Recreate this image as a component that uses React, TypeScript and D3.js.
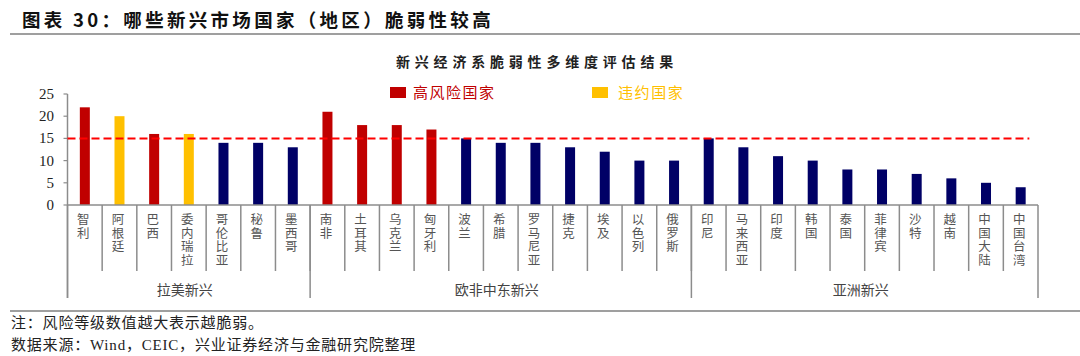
import React from "react";
import * as d3 from "d3";

const groupNames = ["拉美新兴", "欧非中东新兴", "亚洲新兴"];
const latam = ["智利", "阿根廷", "巴西", "委内瑞拉", "哥伦比亚", "秘鲁", "墨西哥"];
const emea = ["南非", "土耳其", "乌克兰", "匈牙利", "波兰", "希腊", "罗马尼亚", "捷克", "埃及", "以色列", "俄罗斯"];
const asia = ["印尼", "马来西亚", "印度", "韩国", "泰国", "菲律宾", "沙特", "越南", "中国大陆", "中国台湾"];
const latamValues = [22, 20, 16, 16, 14, 14, 13];
const emeaValues = [21, 18, 18, 17, 15, 14, 14, 13, 12, 10, 10];
const asiaValues = [15, 13, 11, 10, 8, 8, 7, 6, 5, 4];
const highRisk = ["智利", "巴西", "南非", "土耳其", "乌克兰", "匈牙利"];
const defaulted = ["阿根廷", "委内瑞拉"];
const yTicks = [0, 5, 10, 15, 20, 25];
const threshold = 15;
const legendLabels = ["高风险国家", "违约国家"];

const groups = [latam, emea, asia];
const categories = [...latam, ...emea, ...asia];
const values = [...latamValues, ...emeaValues, ...asiaValues];

const RED = "#C00000";
const YELLOW = "#FFC000";
const NAVY = "#000066";
const GRAY = "#8c8c8c";
const SERIF = "'Liberation Serif', 'Times New Roman', 'Noto Sans CJK SC', serif";
const CJK = "'Noto Sans CJK SC', sans-serif";

export default function App() {
  const x = d3.scaleBand<string>().domain(categories).range([67.5, 1038]).padding(0);
  const y = d3.scaleLinear().domain([0, 25]).range([205, 94]);
  const bw = x.bandwidth();
  const barW = 10;
  const colorOf = (c: string) =>
    highRisk.includes(c) ? RED : defaulted.includes(c) ? YELLOW : NAVY;

  let idx = 0;
  const groupSpans = groups.map((g, i) => {
    const start = x(categories[idx])!;
    const end = x(categories[idx + g.length - 1])! + bw;
    idx += g.length;
    return { name: groupNames[i], start, end };
  });
  const groupEdges = [groupSpans[0].start, ...groupSpans.map((g) => g.end)];

  return (
    <svg
      width={1080}
      height={356}
      style={{ position: "absolute", left: 0, top: 0, background: "#fff" }}
    >
      {/* main title */}
      <text x={22} y={27} fontFamily={CJK} fontWeight="bold" fontSize={18.5} letterSpacing={3.3} fill="#111">
        图表 30：哪些新兴市场国家（地区）脆弱性较高
      </text>
      <line x1={10} x2={1080} y1={34} y2={34} stroke="#7f7f7f" strokeWidth={1.5} />

      {/* chart title */}
      <text x={537} y={67} textAnchor="middle" fontFamily={CJK} fontWeight="bold" fontSize={14} letterSpacing={4.8} fill="#222">
        新兴经济系脆弱性多维度评估结果
      </text>

      {/* legend */}
      <rect x={390} y={87} width={16} height={11} fill={RED} />
      <text x={413} y={98} fontFamily={CJK} fontSize={15} letterSpacing={1.5} fill={RED}>{legendLabels[0]}</text>
      <rect x={592} y={87} width={16} height={11} fill={YELLOW} />
      <text x={618} y={98} fontFamily={CJK} fontSize={15} letterSpacing={1.6} fill={YELLOW}>{legendLabels[1]}</text>

      {/* y axis */}
      <line x1={67.5} x2={67.5} y1={y(25)} y2={298} stroke={GRAY} strokeWidth={1.5} />
      {yTicks.map((t) => (
        <g key={t}>
          <line x1={63.5} x2={67.5} y1={y(t)} y2={y(t)} stroke={GRAY} strokeWidth={1.2} />
          <text x={54} y={y(t) + 5} textAnchor="end" fontFamily={SERIF} fontSize={15} fill="#222">
            {t}
          </text>
        </g>
      ))}

      {/* bars */}
      {categories.map((c, i) => (
        <rect
          key={c}
          x={x(c)! + bw / 2 - barW / 2}
          y={y(values[i])}
          width={barW}
          height={y(0) - y(values[i])}
          fill={colorOf(c)}
        />
      ))}

      {/* zero axis */}
      <line x1={67.5} x2={1038} y1={y(0)} y2={y(0)} stroke={GRAY} strokeWidth={1.5} />

      {/* category separators */}
      {categories.slice(1).map((c) => (
        <line key={"s" + c} x1={x(c)!} x2={x(c)!} y1={y(0)} y2={271} stroke={GRAY} strokeWidth={1.5} />
      ))}
      {groupEdges.map((e, i) => (
        <line key={"g" + i} x1={e} x2={e} y1={y(0)} y2={298} stroke={GRAY} strokeWidth={1.5} />
      ))}

      {/* category labels (vertical, upright characters) */}
      {categories.map((c) => (
        <text
          key={"l" + c}
          x={x(c)! + bw / 2 - 1.5}
          y={213}
          fontFamily={CJK}
          fontSize={12.5}
          letterSpacing={1}
          fill="#555"
          style={{ writingMode: "vertical-rl" as any }}
        >
          {c}
        </text>
      ))}

      {/* group labels */}
      {groupSpans.map((g) => (
        <text
          key={g.name}
          x={(g.start + g.end) / 2 - 4}
          y={295}
          textAnchor="middle"
          fontFamily={CJK}
          fontSize={14}
          fill="#444"
        >
          {g.name}
        </text>
      ))}

      {/* threshold dashed line */}
      <line
        x1={67.5}
        x2={x(categories[categories.length - 1])! + bw * 0.75}
        y1={y(threshold)}
        y2={y(threshold)}
        stroke="#FF0000"
        strokeWidth={2}
        strokeDasharray="8,4"
      />

      {/* bottom rule & notes */}
      <line x1={10} x2={1080} y1={311} y2={311} stroke="#7f7f7f" strokeWidth={1.5} />
      <text x={11} y={328} fontFamily={SERIF} fontSize={15} letterSpacing={0.8} fill="#222">
        注：风险等级数值越大表示越脆弱。
      </text>
      <text x={11} y={350} fontFamily={SERIF} fontSize={15} letterSpacing={0.8} fill="#222">
        数据来源：Wind，CEIC，兴业证券经济与金融研究院整理
      </text>
    </svg>
  );
}
